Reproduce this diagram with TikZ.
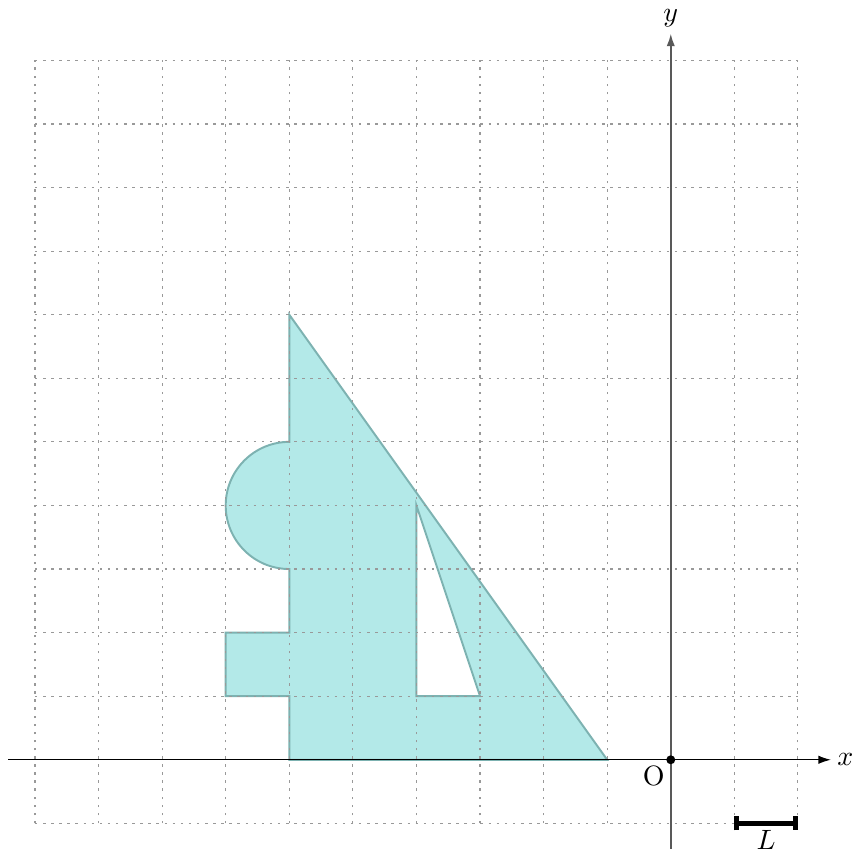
\documentclass[tikz,border=0pt]{standalone}
\usepackage{tikz}
\usetikzlibrary{arrows.meta, calc}
\definecolor{shapefill}{RGB}{179,233,232}
\definecolor{shapeline}{RGB}{125,178,177}

\begin{document}
\begin{tikzpicture}[
  scale=0.8,
  gridline/.style={gray!80, dash pattern=on 0.9pt off 2pt, line width=0.4pt},
  axis/.style={-{Latex[length=4.5pt, width=3pt]}, line width=0.5pt},
  figure/.style={fill=shapefill, draw=shapeline, line width=0.7pt, even odd rule}
]
\useasboundingbox (-10.55,-1.45) rectangle (2.85,11.95);

% the shape with its hole
\path[figure] (-6,0) -- (-1,0) -- (-6,7) -- (-6,5)
  arc[start angle=90, end angle=270, radius=1] -- (-6,2) -- (-7,2) -- (-7,1)
  -- (-6,1) -- cycle
  (-4,4) -- (-4,1) -- (-3,1) -- cycle;

\draw[gridline, step=1] (-10,-1) grid (2,11);

\draw[axis] (-10.42,0) -- (2.52,0) node[right, inner sep=2pt] (xl) {$x$};
\draw[axis, black!65, line width=0.6pt] (0,-1.4) -- (0,11.42) node[above, inner sep=2pt, black] (yl) {$y$};

\fill (0,0) circle (2pt) coordinate (o);
\node[anchor=north east, inner sep=2pt] at (o) (ol) {O};

% unit length
\coordinate (l1) at (1,-1);
\coordinate (l2) at (2,-1);
\draw[{Bar[width=5pt]}-{Bar[width=5pt]}, line width=1.6pt] (l1) -- (l2);
\node[below, inner sep=2.5pt] at ($(l1)!0.5!(l2)$) (ll) {$L$};

\end{tikzpicture}
\end{document}
